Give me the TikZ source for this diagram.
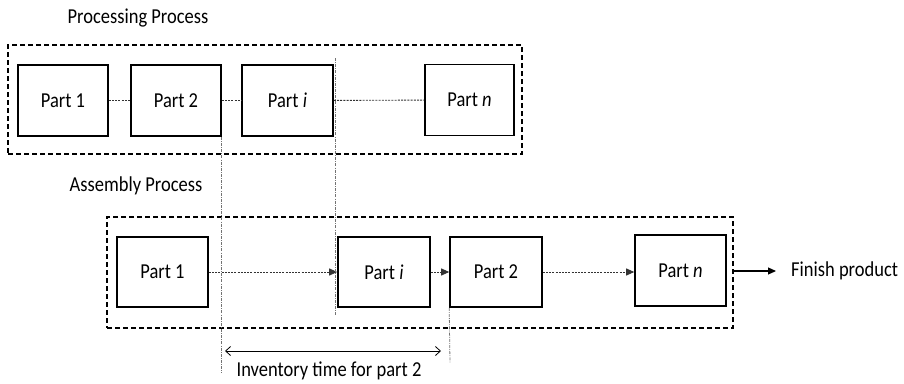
\documentclass[tikz,border=0pt]{standalone}
\usepackage{fontspec}
\setmainfont{Carlito}
\usetikzlibrary{arrows.meta}
\newcommand{\tallt}[1]{\scalebox{1}[1.15]{#1}}
\tikzset{
  partbox/.style={draw, line width=1.6pt, minimum width=90pt, minimum height=71pt,
    inner sep=0pt, font=\fontsize{18.5}{20}\selectfont},
  groupbox/.style={draw, dashed, dash pattern=on 5pt off 3pt, line width=1.6pt,
    inner sep=0pt},
  lbl/.style={font=\fontsize{18.5}{20}\selectfont, inner sep=0pt},
  link/.style={line width=0.9pt, dash pattern=on 2pt off 1.2pt, black!80},
  guide/.style={line width=0.8pt, dash pattern=on 3pt off 1.2pt on 0.8pt off 1.2pt, black!55},
  tip/.style={-{Triangle[length=8pt,width=7pt]}}
}
\begin{document}
\begin{tikzpicture}[x=1pt,y=-1pt]
\useasboundingbox (0,0) rectangle (904,383);

% group frames
\node[groupbox, minimum width=514pt, minimum height=109pt] (proc) at (265,99.5) {};
\node[groupbox, minimum width=626pt, minimum height=111pt] (asm) at (420,272.5) {};

% headings
\node[lbl] (tproc) at (138,18) {\tallt{Processing Process}};
\node[lbl] (tasm) at (136,186) {\tallt{Assembly Process}};

% processing parts
\node[partbox] (p1) at (63,100.5) {\tallt{Part 1}};
\node[partbox] (p2) at (176,100.5) {\tallt{Part 2}};
\node[partbox, minimum width=91pt] (pi) at (287.5,100.5) {\tallt{Part \textit{i}}};
\node[partbox, minimum width=89pt] (pn) at (469.5,100) {\tallt{Part \textit{n}}};

% assembly parts
\node[partbox, minimum width=91pt, minimum height=70pt] (a1) at (162.5,272) {\tallt{Part 1}};
\node[partbox, minimum width=92pt, minimum height=70pt] (ai) at (384,272) {\tallt{Part \textit{i}}};
\node[partbox, minimum width=92pt, minimum height=70pt] (a2) at (496,272) {\tallt{Part 2}};
\node[partbox, minimum width=91pt, minimum height=71pt] (an) at (680.5,270.5) {\tallt{Part \textit{n}}};

% output label
\node[lbl, anchor=west] (fin) at (791,271) {\tallt{Finish product}};
\coordinate (finend) at (776,271);

% processing sequence links
\draw[link] (p1) -- (p2);
\draw[link] (p2) -- (pi);
\draw[link] (pi) -- (pn);

% assembly flow
\draw[link, tip] (a1) -- (ai);
\draw[link, tip] (ai) -- (a2);
\draw[link, tip] (a2) -- (an.west |- a2);
\draw[line width=1.1pt, tip] (asm.east |- finend) -- (finend);

% timing guides
\coordinate (g1top) at (p2.south east);
\coordinate (g1bot) at (220,373);
\coordinate (g2top) at (335,58);
\coordinate (g2bot) at (335,315);
\coordinate (g3top) at (a2.south west);
\coordinate (g3bot) at (450,363);
\draw[guide] (g1top) -- (g1top |- g1bot);
\draw[guide] (g2top) -- (g2bot);
\draw[guide] (g3top) -- (g3bot);

% inventory interval
\coordinate (ia) at (225,351);
\coordinate (ib) at (441,351);
\draw[line width=0.8pt, {Straight Barb[length=5pt,width=9pt]}-{Straight Barb[length=5pt,width=9pt]}] (ia) -- (ib);
\node[lbl] (tinv) at (329,371) {\tallt{Inventory time for part 2}};
\end{tikzpicture}
\end{document}
